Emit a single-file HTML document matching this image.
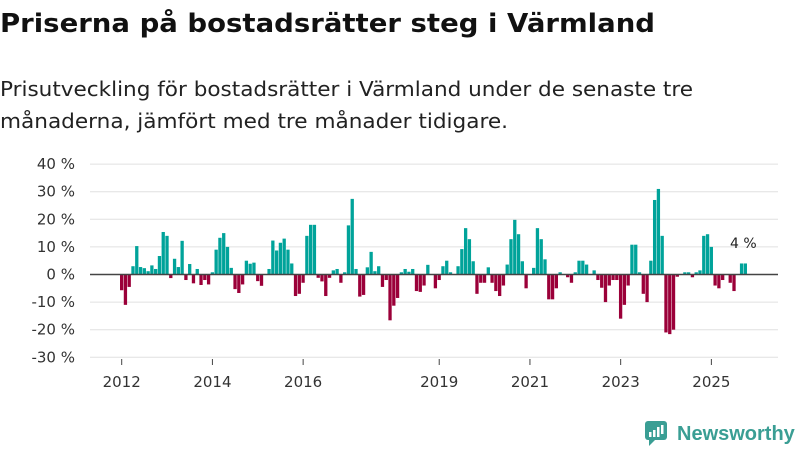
<!DOCTYPE html>
<html><head><meta charset="utf-8"><style>
body{margin:0;background:#fff;width:800px;height:450px;overflow:hidden;font-family:"DejaVu Sans","Liberation Sans",sans-serif}
</style></head><body>
<svg width="800" height="450" xmlns="http://www.w3.org/2000/svg" font-family="DejaVu Sans, Liberation Sans, sans-serif">
<text x="0" y="32" font-size="26" font-weight="bold" fill="#111" textLength="655" lengthAdjust="spacingAndGlyphs">Priserna på bostadsrätter steg i Värmland</text>
<text x="0" y="96" font-size="20" fill="#222" textLength="693" lengthAdjust="spacingAndGlyphs">Prisutveckling för bostadsrätter i Värmland under de senaste tre</text>
<text x="0" y="128" font-size="20" fill="#222" textLength="508" lengthAdjust="spacingAndGlyphs">månaderna, jämfört med tre månader tidigare.</text>
<g id="grid"></g><g id="bars"></g><g id="xaxis"></g>
<text x="730" y="248" font-size="14" fill="#222">4 %</text>
<g>
<rect x="645" y="421" width="22" height="19" rx="3" fill="#3a9e94"/>
<polygon points="649,440 655,440 649,446" fill="#3a9e94"/>
<rect x="649" y="432" width="2.5" height="5" fill="#fff"/><rect x="653" y="430" width="2.5" height="7" fill="#fff"/><rect x="657" y="427" width="2.5" height="10" fill="#fff"/><rect x="661" y="425" width="2.5" height="9" fill="#fff"/>
<text x="677" y="440" font-size="20" font-weight="bold" fill="#3a9e94" font-family="Liberation Sans, sans-serif">Newsworthy</text>
</g>
</svg>
<script>
const values=[-5.7,-11,-4.5,3,10.3,2.7,2.3,1.2,3.3,2,6.7,15.4,14,-1.3,5.7,2.7,12.2,-2,3.8,-3.2,2,-3.8,-2,-3.6,0.8,9,13.3,15,10,2.4,-5.3,-6.7,-3.6,5,3.9,4.3,-2.4,-4.1,0,2,12.3,8.7,11.5,13,9,4,-7.8,-7,-3,14,18,18,-1.2,-2.5,-7.8,-1.2,1.5,2,-3,0.8,17.8,27.4,2,-8,-7.4,2.6,8.2,1.2,3,-4.5,-2,-16.6,-11.3,-8.5,0.8,2,1,2,-6,-6.3,-4,3.5,0,-5,-2,3,5,0.8,0,3,9.2,16.8,12.8,4.8,-7,-3,-3,2.6,-3,-6,-7.8,-4,3.6,12.8,19.8,14.6,4.8,-5,0,2.4,16.8,12.8,5.5,-9,-9,-5,0.8,0,-1,-3,0.8,5,5,3.6,0,1.5,-2,-4.8,-10,-4,-2,-2,-16,-11,-4,10.8,10.8,0.8,-7,-10,5,27,31,14,-21,-21.6,-20,-0.8,0,0.8,0.8,-1,0.8,1.5,14,14.6,10,-4,-5,-2,0,-3,-6,0,4,4];
const yTicks=[40,30,20,10,0,-10,-20,-30];
const yearLabels=[2012,2014,2016,2019,2021,2023,2025];
const startYear=2012;
const NS="http://www.w3.org/2000/svg";
const y=v=>274.5-v*2.76;
const x=i=>120+i*3.78;
const grid=document.getElementById('grid'),bars=document.getElementById('bars'),xa=document.getElementById('xaxis');
let zero=null;
yTicks.forEach(t=>{
 const l=document.createElementNS(NS,'line');
 l.setAttribute('x1',90);l.setAttribute('x2',778);l.setAttribute('y1',y(t));l.setAttribute('y2',y(t));
 l.setAttribute('stroke',t===0?'#444':'#e0e0e0');l.setAttribute('stroke-width',t===0?1.5:1);
 
 
 if(t===0)zero=l;
 const tx=document.createElementNS(NS,'text');
 tx.setAttribute('x',75);tx.setAttribute('y',y(t)+5);tx.setAttribute('text-anchor','end');tx.setAttribute('font-size','15');tx.setAttribute('fill','#333');
 tx.textContent=t+' %';
 
 
 grid.appendChild(l);grid.appendChild(tx);
});
values.forEach((v,i)=>{
 if(v===0)return;
 const r=document.createElementNS(NS,'rect');
 r.setAttribute('x',x(i));r.setAttribute('width',3.3);
 r.setAttribute('y',Math.min(y(v),y(0)));r.setAttribute('height',Math.abs(y(v)-y(0)));
 r.setAttribute('fill',v>0?'#00a39a':'#9b0039');
 
 
 bars.appendChild(r);
});
yearLabels.forEach(yr=>{
 const cx=x((yr-startYear)*12)+1.7;
 const l=document.createElementNS(NS,'line');
 l.setAttribute('x1',cx);l.setAttribute('x2',cx);l.setAttribute('y1',359);l.setAttribute('y2',365);l.setAttribute('stroke','#444');
 
 
 const tx=document.createElementNS(NS,'text');
 tx.setAttribute('x',cx);tx.setAttribute('y',387);tx.setAttribute('text-anchor','middle');tx.setAttribute('font-size','15');tx.setAttribute('fill','#333');
 tx.textContent=yr;
 
 
 xa.appendChild(l);xa.appendChild(tx);
});
document.querySelector('svg').insertBefore(zero,xa);
</script>
</body></html>
